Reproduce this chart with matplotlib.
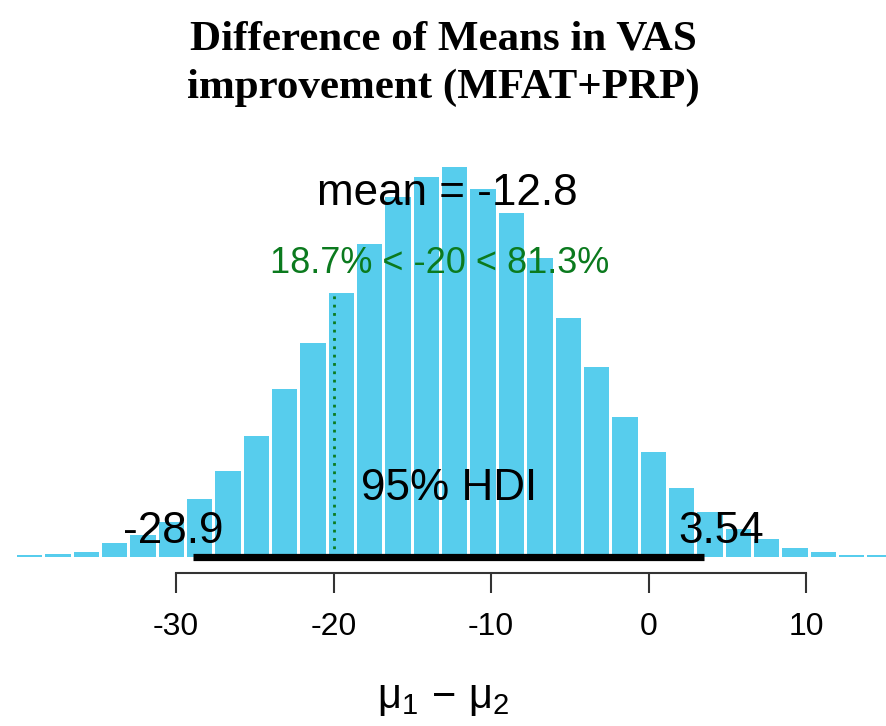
import numpy as np
import matplotlib
matplotlib.use('Agg')
import matplotlib.pyplot as plt
from matplotlib.transforms import ScaledTranslation

plt.rcParams['font.family'] = 'Liberation Sans'
plt.rcParams['axes.unicode_minus'] = False
plt.rcParams['mathtext.fontset'] = 'custom'
plt.rcParams['mathtext.rm'] = 'Liberation Sans'
plt.rcParams['mathtext.it'] = 'Liberation Sans'

# posterior of mu1 - mu2, histogram
bin_edges = [-40.2, -38.4, -36.6, -34.8, -33.0, -31.2, -29.4, -27.6, -25.8, -24.0,
             -22.2, -20.4, -18.6, -16.8, -15.0, -13.2, -11.4, -9.6, -7.8, -6.0,
             -4.2, -2.4, -0.6, 1.2, 3.0, 4.8, 6.6, 8.4, 10.2, 12.0, 13.8, 15.6]
density = [0.0003, 0.0004, 0.0006, 0.0018, 0.0028, 0.0045, 0.0075, 0.0111, 0.0156, 0.0217,
           0.0277, 0.0341, 0.0405, 0.0465, 0.0491, 0.0504, 0.0476, 0.0445, 0.0387, 0.0309,
           0.0246, 0.0181, 0.0136, 0.0089, 0.0058, 0.0036, 0.0023, 0.0012, 0.0006, 0.0003,
           0.0001]
mean_val = -12.8
hdi = [-28.9, 3.54]
comp_val = -20
pct_below, pct_above = 18.7, 81.3
xticks = [-30, -20, -10, 0, 10]

bar_col = '#57CDED'
green = '#0B7A1E'

fig = plt.figure(figsize=(8.86, 7.26), dpi=100)
ax = fig.add_axes([0.0, 126 / 726, 1.0, 470 / 726])

edges = np.array(bin_edges)
dens = np.array(density)
ymax = dens.max()
k = ymax / 390.0  # data units per pixel
gap = 0.19        # white gap between bars (about 3 px)

# small tail bars stay visible as thin strips, like the R plot
heights = np.maximum(dens, 2 * k)
ax.bar(edges[:-1] + gap / 2, heights, width=np.diff(edges) - gap, align='edge',
       color=bar_col, linewidth=0)

ax.set_xlim(-41.175, 15.079)
ax.set_ylim(-43 * k, 427 * k)

for s in ['top', 'left', 'right']:
    ax.spines[s].set_visible(False)
ax.spines['bottom'].set_position(('data', -16 * k))
ax.spines['bottom'].set_bounds(xticks[0], xticks[-1])
ax.spines['bottom'].set_color('#333333')
ax.spines['bottom'].set_linewidth(1.5)
ax.set_yticks([])
ax.set_xticks(xticks)
ax.set_xticklabels([str(t) for t in xticks])
ax.tick_params(axis='x', direction='out', length=14.4, width=1.5, color='#333333',
               labelsize=23, pad=14, labelcolor='black')

# HDI bar
ax.plot(hdi, [0, 0], color='black', lw=5.2, solid_capstyle='butt', zorder=5)

# comparison value
ax.plot([comp_val, comp_val], [0, 0.96 * 0.7 * ymax], color=green, lw=2,
        linestyle=(0, (1, 2)), zorder=4)

ax.text(mean_val, 0.903 * ymax, 'mean = %.1f' % mean_val, ha='center',
        va='baseline', fontsize=31.7, color='black')
ax.text(np.mean(hdi), 0.146 * ymax, '95% HDI', ha='center', va='baseline',
        fontsize=31.7, color='black')

fig.canvas.draw()
renderer = fig.canvas.get_renderer()


def adj_text(x, y, s, adj, **kw):
    t = ax.text(x, y, s, ha='left', va='baseline', **kw)
    w = t.get_window_extent(renderer).width
    t.set_transform(ax.transData + ScaledTranslation(-adj * w / fig.dpi, 0, fig.dpi_scale_trans))
    return t


adj_text(hdi[0], 0.036 * ymax, '%.1f' % hdi[0], 0.7, fontsize=31.7, color='black')
adj_text(hdi[1], 0.036 * ymax, '%.2f' % hdi[1], 0.3, fontsize=31.7, color='black')
adj_text(comp_val, 0.728 * ymax, '%.1f%% < %d < %.1f%%' % (pct_below, comp_val, pct_above),
         pct_below / 100, fontsize=26, color=green)

fig.text(0.5, 1 - 50 / 726, 'Difference of Means in VAS', ha='center', va='baseline',
         family='Liberation Serif', weight='bold', fontsize=31)
fig.text(0.5, 1 - 98 / 726, 'improvement (MFAT+PRP)', ha='center', va='baseline',
         family='Liberation Serif', weight='bold', fontsize=31)
fig.text(0.5, 1 - 708 / 726, r'$\mathrm{\mu}_1\,-\,\mathrm{\mu}_2$', ha='center',
         va='baseline', fontsize=30)

fig.savefig('out.png', dpi=100)
